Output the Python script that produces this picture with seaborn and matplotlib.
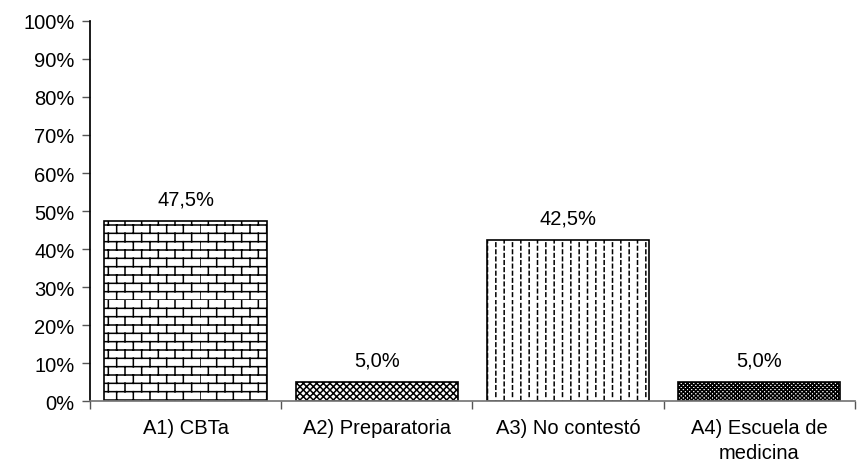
import matplotlib
matplotlib.use("Agg")
import matplotlib.pyplot as plt
import matplotlib.hatch as mhatch
from matplotlib.path import Path
import seaborn as sns
import pandas as pd
import warnings

warnings.filterwarnings("ignore")

# --- DATA ---
categories = ["A1) CBTa", "A2) Preparatoria", "A3) No contestó", "A4) Escuela de\nmedicina"]
values = [47.5, 5.0, 42.5, 5.0]


# --- CUSTOM HATCHES (brick wall and staggered vertical dashes) ---
class BrickHatch(mhatch.HatchPatternBase):
    """'b' -> brick wall pattern"""
    def __init__(self, hatch, density):
        n = hatch.count("b")
        self.rows = 12 * n
        self.cols = 6 * n
        self.num_vertices = (self.rows * 2 + self.rows * self.cols * 2) if n else 0

    def set_vertices_and_codes(self, vertices, codes):
        h = 1.0 / self.rows
        w = 1.0 / self.cols
        i = 0
        for r in range(self.rows):
            y = r * h
            vertices[i] = [0, y]
            vertices[i + 1] = [1, y]
            codes[i], codes[i + 1] = Path.MOVETO, Path.LINETO
            i += 2
            off = 0 if r % 2 == 0 else w / 2
            for c in range(self.cols):
                x = c * w + off
                vertices[i] = [x, y]
                vertices[i + 1] = [x, y + h]
                codes[i], codes[i + 1] = Path.MOVETO, Path.LINETO
                i += 2


class DashHatch(mhatch.HatchPatternBase):
    """'d' -> staggered short vertical dashes"""
    def __init__(self, hatch, density):
        n = hatch.count("d")
        self.rows = 14 * n
        self.cols = 12 * n
        self.num_vertices = self.rows * self.cols * 2 if n else 0

    def set_vertices_and_codes(self, vertices, codes):
        h = 1.0 / self.rows
        w = 1.0 / self.cols
        i = 0
        for c in range(self.cols):
            off = 0 if c % 2 == 0 else h / 2
            for r in range(self.rows):
                y = r * h + off
                vertices[i] = [c * w + w / 2, y]
                vertices[i + 1] = [c * w + w / 2, y + h * 0.5]
                codes[i], codes[i + 1] = Path.MOVETO, Path.LINETO
                i += 2


mhatch._hatch_types.extend([BrickHatch, DashHatch])

sns.set_theme(style="white")
plt.rcParams["font.family"] = ["Liberation Sans", "DejaVu Sans"]
plt.rcParams["hatch.linewidth"] = 1.1
plt.rcParams["text.color"] = "black"

df = pd.DataFrame({"categoria": categories, "valor": values})

fig = plt.figure(figsize=(8.59, 4.64), dpi=100)
ax = fig.add_axes([0.1048, 0.1336, 0.8902, 0.819])

sns.barplot(data=df, x="categoria", y="valor", color="white", edgecolor="black",
            linewidth=1.2, width=0.85, ax=ax, errorbar=None)

hatches = ["b", "xxxxx", "d", "xxxxxxxx"]
for patch, h in zip(ax.patches, hatches):
    patch.set_hatch(h)

FS = 14.5

# value labels with comma decimals
for i, v in enumerate(values):
    ax.text(i, v + 3.2, f"{v:.1f}%".replace(".", ","), ha="center", va="bottom",
            fontsize=FS, color="black")

ax.set_ylim(0, 100)
ax.set_xlim(-0.5, 3.5)
ax.set_yticks(range(0, 101, 10))
ax.set_yticklabels([f"{t}%" for t in range(0, 101, 10)], fontsize=FS, color="black")
ax.tick_params(axis="y", direction="out", length=6, width=1, color="#555555", pad=5, left=True)

# category labels at centers, ticks at boundaries
ax.set_xticks(range(4))
ax.set_xticklabels(categories, fontsize=FS, color="black", linespacing=1.4)
ax.tick_params(axis="x", length=0, pad=12)
ax.set_xticks([-0.5, 0.5, 1.5, 2.5, 3.5], minor=True)
ax.tick_params(axis="x", which="minor", direction="out", length=6, width=1, color="#555555", bottom=True)

ax.set_xlabel("")
ax.set_ylabel("")
for side in ["top", "right"]:
    ax.spines[side].set_visible(False)
ax.spines["left"].set_color("black")
ax.spines["bottom"].set_color("#777777")

plt.savefig("out.png", dpi=100)
